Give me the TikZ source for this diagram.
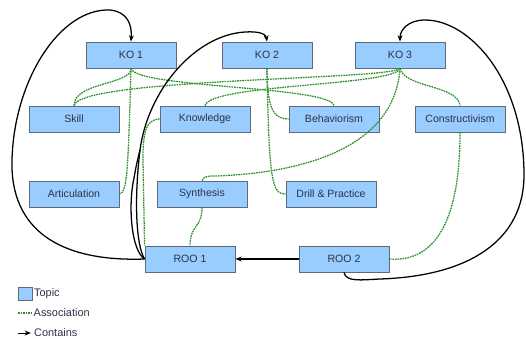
\documentclass[tikz,border=0pt]{standalone}
\usepackage{fontspec}
\setmainfont{Liberation Sans}
\usetikzlibrary{arrows.meta}
\definecolor{topicfill}{RGB}{153,204,255}
\definecolor{topicline}{RGB}{95,105,125}
\definecolor{topictext}{RGB}{45,50,70}
\definecolor{assocgreen}{RGB}{40,145,40}
\begin{document}
\begin{tikzpicture}[x=0.025cm, y=-0.025cm,
    topic/.style={draw=topicline, fill=topicfill, line width=0.6pt,
        minimum width=2.25cm, minimum height=0.65cm, inner sep=0pt,
        font=\fontsize{7.5}{9}\selectfont, text=topictext},
    assoc/.style={assocgreen, line width=0.9pt, dash pattern=on 1.2pt off 0.6pt},
    contains/.style={black, line width=0.9pt, -{Stealth[length=4.5pt,width=3.5pt]}},
    legend/.style={font=\fontsize{7.8}{9}\selectfont, text=topictext,
        inner sep=1pt, anchor=west}]

    \useasboundingbox (0,0) rectangle (526,338);

    % Knowledge objects
    \node[topic] (ko1) at (131,55) {KO 1};
    \node[topic] (ko2) at (267,55) {KO 2};
    \node[topic] (ko3) at (400,55) {KO 3};

    % Topics, first row
    \node[topic] (skill) at (74,119) {Skill};
    \node[topic] (know) at (205,119) {Knowledge};
    \node[topic] (behav) at (334,119) {Behaviorism};
    \node[topic] (constr) at (460,119) {Constructivism};

    % Topics, second row
    \node[topic] (artic) at (74,194) {Articulation};
    \node[topic] (synth) at (202,194) {Synthesis};
    \node[topic] (drill) at (331,194) {Drill \& Practice};

    % Reusable objects
    \node[topic] (roo1) at (190,259) {ROO 1};
    \node[topic] (roo2) at (344,259) {ROO 2};

    % Associations
    \draw[assoc] (ko1.south) .. controls (131,85) and (74,82) .. (skill.north);
    \draw[assoc] (ko1.south) .. controls (135,88) and (330,86) .. (behav.north);
    \draw[assoc] (ko1.south) .. controls (128,175) and (127,192) .. (artic.east);
    \draw[assoc] (ko3.south) .. controls (390,80) and (80,78) .. (skill.north);
    \draw[assoc] (ko3.south) .. controls (395,86) and (210,84) .. (know.north);
    \draw[assoc] (ko3.south) .. controls (405,88) and (458,85) .. (constr.north);
    \draw[assoc] (ko2.south) .. controls (267,112) and (275,119) .. (behav.west);
    \draw[assoc] (ko2.south) .. controls (269,182) and (272,194) .. (drill.west);
    \draw[assoc] (know.west) .. controls (145,119) and (143,135) .. (143,160)
        -- (roo1.north west);
    \draw[assoc] (synth.south) .. controls (202,228) and (190,225) .. (roo1.north);
    \draw[assoc] (synth.north) .. controls (204,176) and (208,176) .. (216,176)
        .. controls (320,172) and (395,140) .. (ko3.south);
    \draw[assoc] (constr.south) .. controls (460,230) and (430,262) .. (roo2.east);

    % Contains
    \coordinate (c2join) at (140,150);
    \draw[contains] (roo1.west) .. controls (60,262) and (10,230) .. (12,160)
        .. controls (14,80) and (60,8) .. (110,10)
        .. controls (128,12) and (132,25) .. (ko1.north);
    \draw[contains] (roo1.west) .. controls (136,245) and (134,200) .. (c2join)
        .. controls (148,90) and (195,35) .. (245,32)
        .. controls (262,31) and (266,35) .. (ko2.north);
    \draw[black, line width=0.9pt] (roo1.west) .. controls (131,250) and (128,205)
        .. (134,178) .. controls (136,166) and (138,158) .. (c2join);
    \draw[contains] (roo2.west) -- (roo1.east);
    \draw[contains] (roo2.south) .. controls (346,282) and (360,280) .. (380,279)
        .. controls (470,276) and (524,240) .. (524,175)
        .. controls (524,80) and (470,20) .. (425,20)
        .. controls (408,20) and (400,30) .. (ko3.north);

    % Legend
    \node[topic, minimum width=0.35cm, minimum height=0.33cm] (lgtopic) at (25,294) {};
    \node[legend] (lgtopictext) at (lgtopic.east) {Topic};
    \coordinate (lgassoca) at (18,313);
    \coordinate (lgassocb) at (32,313);
    \draw[assoc] (lgassoca) -- (lgassocb);
    \node[legend] (lgassoctext) at (lgassocb) {Association};
    \coordinate (lgcona) at (18,333);
    \coordinate (lgconb) at (31,333);
    \draw[contains, line width=0.7pt] (lgcona) -- (lgconb);
    \node[legend] (lgcontext) at ([xshift=1pt]lgconb) {Contains};
\end{tikzpicture}
\end{document}
